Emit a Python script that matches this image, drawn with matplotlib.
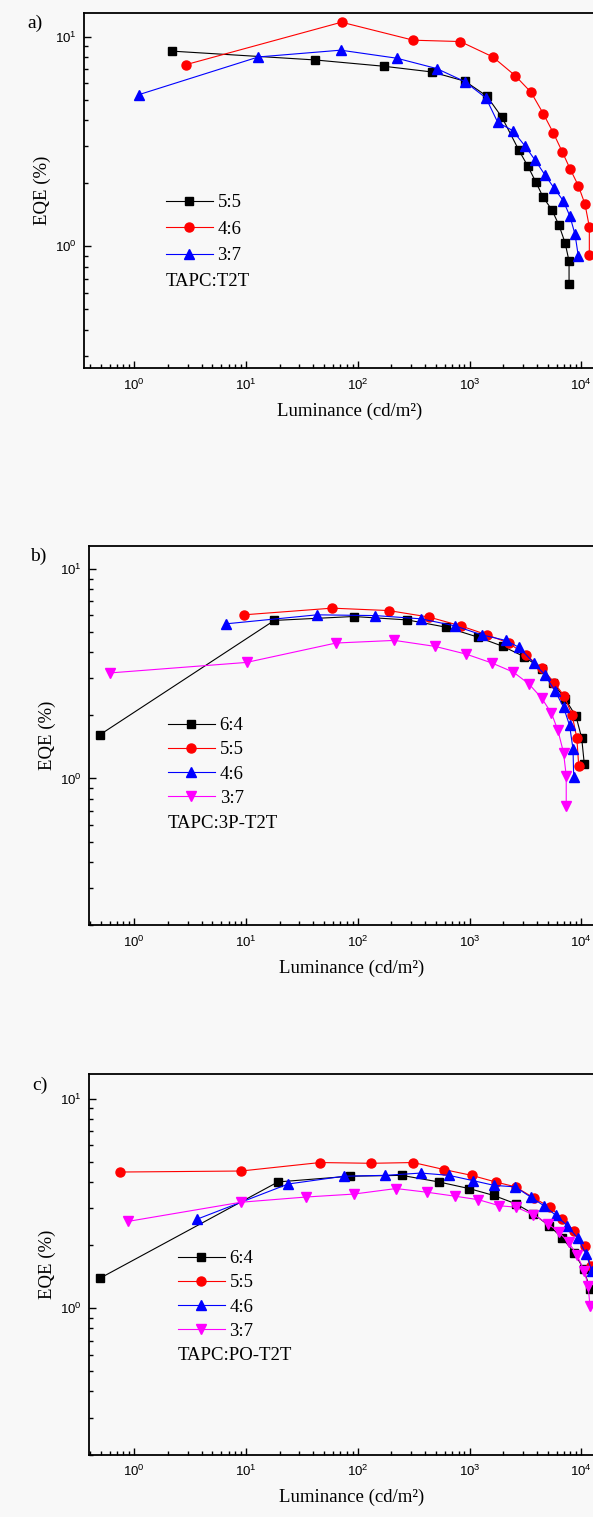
import numpy as np
import matplotlib
matplotlib.use('Agg')
import matplotlib.pyplot as plt
from matplotlib.ticker import LogLocator, FuncFormatter, NullFormatter

plt.rcParams['mathtext.fontset'] = 'custom'
plt.rcParams['mathtext.rm'] = 'Liberation Sans'
plt.rcParams['mathtext.it'] = 'Liberation Sans:italic'

# ---- panel a) TAPC:T2T ----
a_lum_55 = [2.17, 41.4, 171, 461, 912, 1430, 1950, 2770, 3330, 3935, 4545, 5470, 6320, 7160, 7770, 7770]
a_eqe_55 = [8.55, 7.76, 7.24, 6.80, 6.14, 5.21, 4.13, 2.87, 2.41, 2.02, 1.72, 1.49, 1.26, 1.04, 0.85, 0.66]
a_lum_46 = [2.93, 71.5, 314, 826, 1611, 2553, 3548, 4570, 5620, 6770, 7920, 9400, 10790, 11800, 11800]
a_eqe_46 = [7.38, 11.75, 9.64, 9.50, 8.03, 6.54, 5.44, 4.30, 3.48, 2.82, 2.35, 1.95, 1.59, 1.24, 0.91]
a_lum_37 = [1.10, 12.9, 70.3, 223, 508, 905, 1403, 1786, 2432, 3157, 3878, 4710, 5700, 6900, 7920, 8790, 9400]
a_eqe_37 = [5.30, 8.02, 8.64, 7.91, 7.06, 6.12, 5.11, 3.91, 3.57, 3.00, 2.57, 2.20, 1.90, 1.65, 1.39, 1.14, 0.90]

# ---- panel b) TAPC:3P-T2T ----
b_lum_64 = [0.495, 17.9, 91.8, 278, 620, 1183, 1993, 3060, 4415, 5570, 7150, 8970, 10080, 10640]
b_eqe_64 = [1.62, 5.68, 5.93, 5.71, 5.27, 4.73, 4.27, 3.82, 3.34, 2.86, 2.40, 1.98, 1.56, 1.17]
b_lum_55 = [9.57, 58.9, 189, 436, 833, 1436, 2240, 3183, 4415, 5710, 7050, 8290, 9120, 9480]
b_eqe_55 = [6.04, 6.50, 6.33, 5.89, 5.35, 4.85, 4.43, 3.89, 3.37, 2.87, 2.47, 2.00, 1.56, 1.15]
b_lum_46 = [6.59, 43.1, 144, 368, 741, 1280, 2105, 2786, 3775, 4700, 5840, 6930, 7860, 8430, 8550]
b_eqe_46 = [5.47, 6.04, 5.99, 5.78, 5.35, 4.85, 4.56, 4.22, 3.55, 3.13, 2.61, 2.19, 1.79, 1.38, 1.02]
b_lum_37 = [0.61, 10.1, 63.7, 213, 491, 935, 1578, 2460, 3388, 4415, 5400, 6170, 6930, 7330, 7330]
b_eqe_37 = [3.19, 3.58, 4.43, 4.56, 4.27, 3.92, 3.56, 3.22, 2.83, 2.42, 2.05, 1.70, 1.33, 1.03, 0.74]

# ---- panel c) TAPC:PO-T2T ----
c_lum_64 = [0.495, 19.3, 84.8, 247, 530, 988, 1641, 2578, 3717, 5160, 6770, 8620, 10480, 11970]
c_eqe_64 = [1.39, 4.00, 4.26, 4.30, 4.00, 3.72, 3.45, 3.15, 2.82, 2.47, 2.16, 1.84, 1.54, 1.23]
c_lum_55 = [0.74, 9.0, 45.9, 132, 314, 595, 1043, 1708, 2578, 3775, 5200, 6770, 8690, 10800, 12200]
c_eqe_55 = [4.46, 4.51, 4.95, 4.91, 4.95, 4.58, 4.30, 4.00, 3.79, 3.35, 3.04, 2.67, 2.32, 1.97, 1.59]
c_lum_46 = [3.67, 23.8, 75.5, 175, 368, 655, 1069, 1666, 2557, 3522, 4625, 5930, 7500, 9250, 11060, 12440]
c_eqe_46 = [2.66, 3.91, 4.26, 4.30, 4.41, 4.30, 4.06, 3.85, 3.79, 3.39, 3.08, 2.77, 2.47, 2.16, 1.81, 1.50]
c_lum_37 = [0.87, 9.0, 34.7, 91.8, 220, 420, 741, 1202, 1845, 2620, 3717, 5080, 6320, 7690, 9120, 10640, 11500, 11970]
c_eqe_37 = [2.59, 3.20, 3.39, 3.50, 3.72, 3.57, 3.42, 3.29, 3.08, 3.03, 2.79, 2.52, 2.30, 2.06, 1.80, 1.50, 1.28, 1.02]

W, H = 593, 1517
BG = '#f8f8f8'
fig = plt.figure(figsize=(W / 100, H / 100), dpi=100, facecolor=BG)

X0_PX = 134.3      # pixel of 10^0 on x
DEC_X = 111.75     # pixels per decade (x)
DEC_Y = 209.5      # pixels per decade (y)
XMAX = 2e4
FS = 13.5


def make_axes(top, xlo, ylo, yhi):
    left = X0_PX - DEC_X * (-np.log10(xlo))
    wpx = DEC_X * (np.log10(XMAX) - np.log10(xlo))
    hpx = DEC_Y * (np.log10(yhi) - np.log10(ylo))
    ax = fig.add_axes([left / W, 1 - (top + hpx) / H, wpx / W, hpx / H])
    ax.set_facecolor(BG)
    ax.set_xscale('log')
    ax.set_yscale('log')
    ax.set_xlim(xlo, XMAX)
    ax.set_ylim(ylo, yhi)
    fmt = FuncFormatter(lambda v, p: r'$10^{%d}$' % round(np.log10(v)))
    ax.xaxis.set_major_locator(LogLocator(base=10, numticks=10))
    ax.yaxis.set_major_locator(LogLocator(base=10, numticks=10))
    ax.xaxis.set_minor_locator(LogLocator(base=10, subs=np.arange(2, 10), numticks=20))
    ax.yaxis.set_minor_locator(LogLocator(base=10, subs=np.arange(2, 10), numticks=20))
    ax.xaxis.set_major_formatter(fmt)
    ax.yaxis.set_major_formatter(fmt)
    ax.xaxis.set_minor_formatter(NullFormatter())
    ax.yaxis.set_minor_formatter(NullFormatter())
    ax.tick_params(which='both', direction='in', top=False, right=False, width=1.0, labelsize=9.5)
    ax.tick_params(which='major', length=5)
    ax.tick_params(which='minor', length=3)
    ax.tick_params(axis='x', pad=7)
    ax.tick_params(axis='y', pad=5)
    for s in ax.spines.values():
        s.set_linewidth(1.3)
    ax.set_xlabel('Luminance (cd/m²)', fontfamily='Liberation Serif', fontsize=FS, labelpad=7)
    ax.set_ylabel('EQE (%)', fontfamily='Liberation Serif', fontsize=FS, labelpad=3)
    return ax


def draw(ax, lum, eqe, color, marker, ms, label):
    ax.plot(lum, eqe, color=color, marker=marker, ms=ms, lw=0.8, mec=color, mfc=color, label=label)


def legend(ax, x, y, spacing, name, tx, ty):
    leg = ax.legend(loc='upper left', bbox_to_anchor=(x / W, 1 - y / H), bbox_transform=fig.transFigure,
                    frameon=False, handlelength=2.5, handletextpad=0.25, labelspacing=spacing,
                    borderpad=0, borderaxespad=0, numpoints=1,
                    prop={'family': 'Liberation Serif', 'size': FS})
    fig.text(tx / W, 1 - ty / H, name, fontfamily='Liberation Serif', fontsize=FS, va='center', ha='left')
    return leg


# panel a
axa = make_axes(13, 0.355, 0.263, 13.0)
draw(axa, a_lum_55, a_eqe_55, 'black', 's', 5.5, '5:5')
draw(axa, a_lum_46, a_eqe_46, 'red', 'o', 6.5, '4:6')
draw(axa, a_lum_37, a_eqe_37, 'blue', '^', 7, '3:7')
legend(axa, 166, 194, 0.51, 'TAPC:T2T', 166, 282)
fig.text(27 / W, 1 - 23 / H, 'a)', fontfamily='Liberation Serif', fontsize=14, va='center')

# panel b
axb = make_axes(546, 0.393, 0.2, 12.87)
draw(axb, b_lum_64, b_eqe_64, 'black', 's', 5.5, '6:4')
draw(axb, b_lum_55, b_eqe_55, 'red', 'o', 6.5, '5:5')
draw(axb, b_lum_46, b_eqe_46, 'blue', '^', 7, '4:6')
draw(axb, b_lum_37, b_eqe_37, '#ff00ff', 'v', 7, '3:7')
legend(axb, 168, 717, 0.38, 'TAPC:3P-T2T', 168, 823)
fig.text(30 / W, 1 - 556 / H, 'b)', fontfamily='Liberation Serif', fontsize=14, va='center')

# panel c
axc = make_axes(1074, 0.393, 0.2, 13.1)
draw(axc, c_lum_64, c_eqe_64, 'black', 's', 5.5, '6:4')
draw(axc, c_lum_55, c_eqe_55, 'red', 'o', 6.5, '5:5')
draw(axc, c_lum_46, c_eqe_46, 'blue', '^', 7, '4:6')
draw(axc, c_lum_37, c_eqe_37, '#ff00ff', 'v', 7, '3:7')
legend(axc, 178, 1250, 0.38, 'TAPC:PO-T2T', 178, 1355)
fig.text(32 / W, 1 - 1085 / H, 'c)', fontfamily='Liberation Serif', fontsize=14, va='center')

fig.savefig('out.png', dpi=100, facecolor=BG)
